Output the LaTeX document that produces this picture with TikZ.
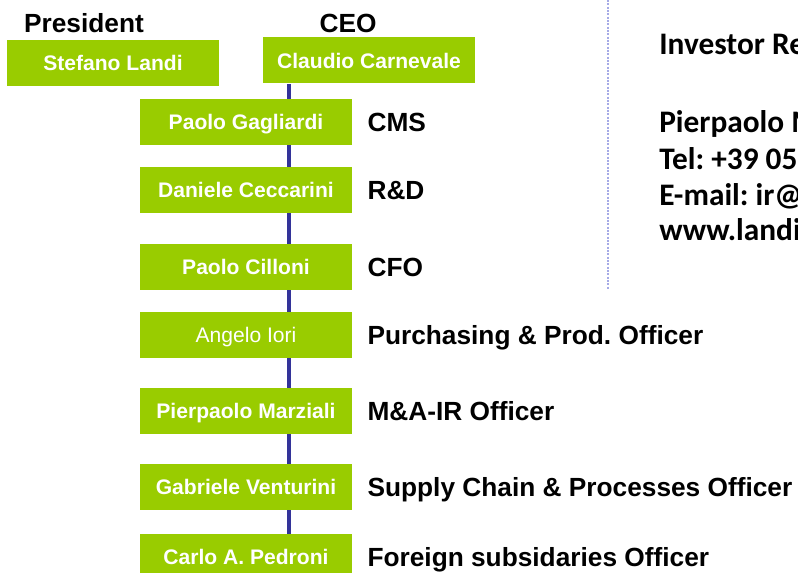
\documentclass[tikz,border=0pt]{standalone}
\usepackage{fontspec}
\setmainfont{Liberation Sans}
\newfontfamily\irfont{Carlito}
\usetikzlibrary{positioning}
\definecolor{landigreen}{RGB}{153,204,0}
\definecolor{spineblue}{RGB}{51,51,153}
\definecolor{sepblue}{RGB}{165,170,230}
\frenchspacing

\begin{document}
\begin{tikzpicture}[x=0.75pt, y=-0.75pt, node distance=11.25pt]

    % Styles for boxes, labels and lines
    \tikzstyle{person} = [rectangle, minimum width=159pt, minimum height=34.5pt, inner sep=0pt, text height=11.3pt, text depth=0pt, text centered, fill=landigreen, text=white, font=\fontsize{15.8}{19}\selectfont\bfseries]
    \tikzstyle{role} = [inner sep=0pt, text height=14.1pt, text depth=0pt, anchor=west, font=\fontsize{19.7}{23}\selectfont\bfseries]
    \tikzstyle{link} = [line width=3pt, draw=spineblue]
    \tikzstyle{contact} = [inner sep=0pt, anchor=base west, font=\irfont\fontsize{23.5}{27}\selectfont\bfseries]

    \useasboundingbox (0,0) rectangle (798,573);
    \clip (0,0) rectangle (798,573);

    % Top of the chart
    \node (landi) [person] at (113,63) {Stefano Landi};
    \node (carnevale) [person] at (369,60.5) {Claudio Carnevale};
    \node (president) [role, anchor=center] at (84,23) {President};
    \node (ceo) [role, anchor=center] at (348,23) {CEO};

    % Managers below the CEO
    \node (gagliardi) [person] at (246,122) {Paolo Gagliardi};
    \node (ceccarini) [person] at (246,190) {Daniele Ceccarini};
    \node (cilloni) [person] at (246,267) {Paolo Cilloni};
    \node (iori) [person, font=\fontsize{15.8}{19}\selectfont] at (246,335) {Angelo Iori};
    \node (marziali) [person] at (246,411) {Pierpaolo Marziali};
    \node (venturini) [person] at (246,487) {Gabriele Venturini};
    \node (pedroni) [person] at (246,557) {Carlo A. Pedroni};

    % Roles
    \node (cms) [role, right=of gagliardi] {CMS};
    \node (rnd) [role, right=of ceccarini] {R\&D};
    \node (cfo) [role, right=of cilloni] {CFO};
    \node (purchasing) [role, right=of iori] {Purchasing \& Prod. Officer};
    \node (mair) [role, right=of marziali] {M\&A-IR Officer};
    \node (supply) [role, right=of venturini] {Supply Chain \& Processes Officer};
    \node (foreign) [role, right=of pedroni] {Foreign subsidaries Officer};

    % Vertical line joining the boxes
    \coordinate (spine) at (289,0);
    \foreach \upper/\lower in {carnevale/gagliardi, gagliardi/ceccarini, ceccarini/cilloni, cilloni/iori, iori/marziali, marziali/venturini, venturini/pedroni}
        \draw [link] (\upper.south -| spine) -- (\lower.north -| spine);

    % Separator and investor contacts
    \coordinate (septop) at (608,0);
    \coordinate (sepbottom) at (608,290);
    \draw [sepblue, line width=1.5pt, dash pattern=on 1.5pt off 1pt] (septop) -- (sepbottom);
    \node (irtitle) [contact] at (659,55) {Investor Relations};
    \node (irname) [contact] at (659,133) {Pierpaolo Marziali};
    \node (irtel) [contact] at (659,170) {Tel: +39 0522};
    \node (irmail) [contact] at (659,206) {E-mail: ir@landi.it};
    \node (irweb) [contact] at (659,241) {www.landi.it};

\end{tikzpicture}
\end{document}
